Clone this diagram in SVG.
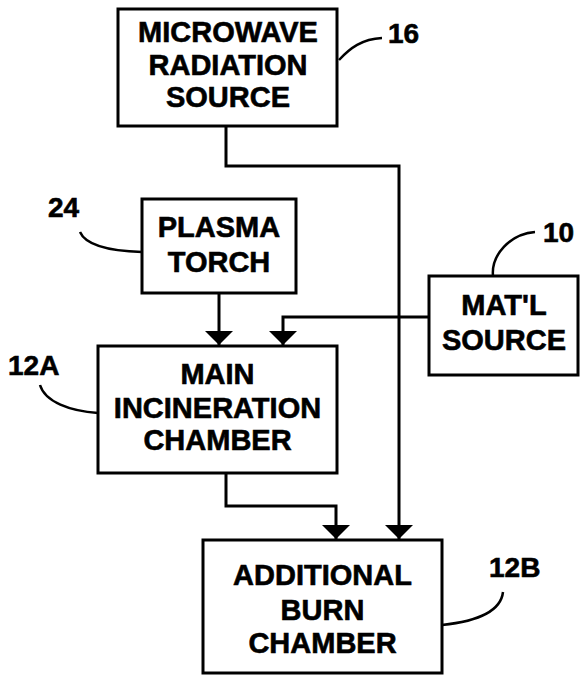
<svg xmlns="http://www.w3.org/2000/svg" width="581" height="677" viewBox="0 0 581 677">
<defs>
<style>
.box{fill:#fff;stroke:#000;stroke-width:3}
.t{font-family:"Liberation Sans",Arial,sans-serif;font-weight:bold;font-size:29px;text-anchor:middle;fill:#000;stroke:#000;stroke-width:0.6}
.lb{font-family:"Liberation Sans",Arial,sans-serif;font-weight:bold;font-size:28px;fill:#000;stroke:#000;stroke-width:0.6}
.ln{fill:none;stroke:#000;stroke-width:3}
.ld{fill:none;stroke:#000;stroke-width:2.5}
</style>
<marker id="ah" markerUnits="userSpaceOnUse" markerWidth="15" markerHeight="28" refX="14" refY="14" orient="auto" viewBox="0 0 15 28">
<path d="M0,0 L14,14 L0,28 Z" fill="#000"/>
</marker>
</defs>
<rect width="581" height="677" fill="#fff"/>
<g id="connectors">
<path class="ln" d="M226,126 V166 H399 V539" marker-end="url(#ah)"/>
<path class="ln" d="M219,293 V345" marker-end="url(#ah)"/>
<path class="ln" d="M429,317 H283 V345" marker-end="url(#ah)"/>
<path class="ln" d="M226,473 V506 H336 V539" marker-end="url(#ah)"/>
</g>
<g id="n16">
<rect class="box" x="118" y="9" width="219" height="117"/>
<text class="t" x="228" y="42">MICROWAVE</text>
<text class="t" x="228" y="75">RADIATION</text>
<text class="t" x="228" y="107">SOURCE</text>
<path class="ld" d="M339,60 C350,48 362,39 382,38"/>
<text class="lb" x="388" y="43">16</text>
</g>
<g id="n24">
<rect class="box" x="142" y="199" width="154" height="94"/>
<text class="t" x="219" y="237">PLASMA</text>
<text class="t" x="219" y="272">TORCH</text>
<path class="ld" d="M80,232 C86,246 110,251 142,252"/>
<text class="lb" x="48" y="217">24</text>
</g>
<g id="n10">
<rect class="box" x="429" y="276" width="149" height="99"/>
<text class="t" x="504" y="315">MAT'L</text>
<text class="t" x="504" y="350">SOURCE</text>
<path class="ld" d="M493,276 C491,255 510,234 535,232"/>
<text class="lb" x="543" y="242">10</text>
</g>
<g id="n12A">
<rect class="box" x="98" y="346" width="239" height="127"/>
<text class="t" x="217.5" y="384">MAIN</text>
<text class="t" x="217.5" y="418">INCINERATION</text>
<text class="t" x="217.5" y="450">CHAMBER</text>
<path class="ld" d="M40,385 C45,402 70,411 98,413"/>
<text class="lb" x="8" y="375">12A</text>
</g>
<g id="n12B">
<rect class="box" x="203" y="540" width="239" height="133"/>
<text class="t" x="322.5" y="585">ADDITIONAL</text>
<text class="t" x="322.5" y="620">BURN</text>
<text class="t" x="322.5" y="653">CHAMBER</text>
<path class="ld" d="M442,625 C480,621 501,610 503,592"/>
<text class="lb" x="489" y="577">12B</text>
</g>
</svg>
